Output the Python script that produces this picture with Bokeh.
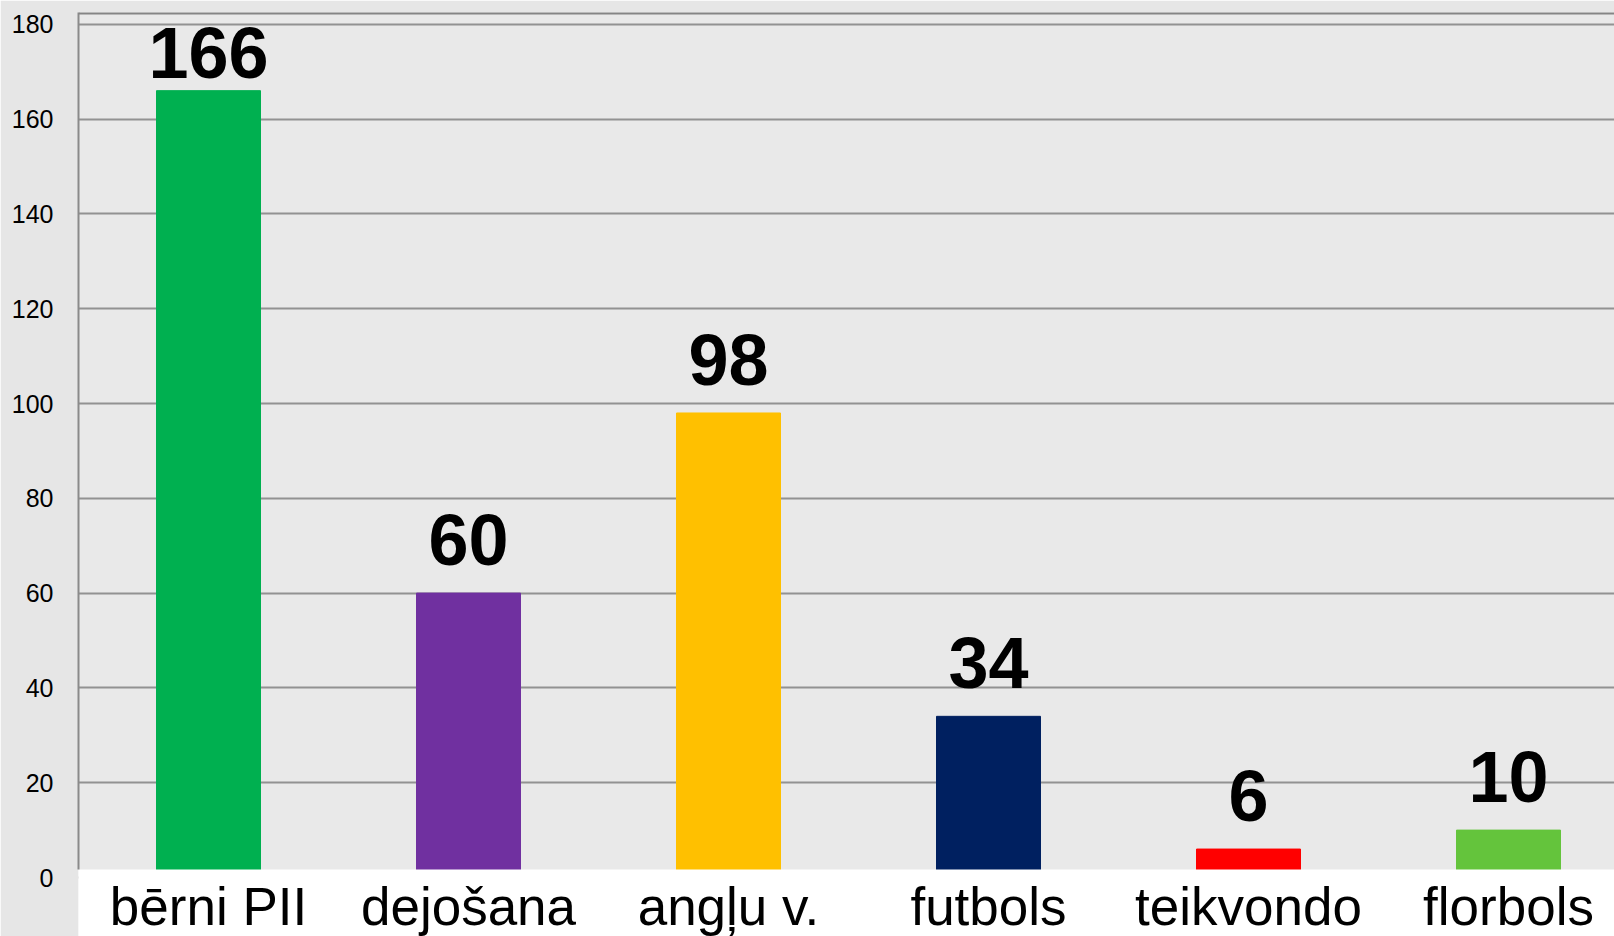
import numpy as np
from bokeh.plotting import figure
from bokeh.models import Range1d, FixedTicker, Span, ColumnDataSource
from bokeh.core.properties import value
from bokeh.embed import file_html
from bokeh.resources import INLINE

# ---- data ----
categories = ["bērni PII", "dejošana", "angļu v.", "futbols", "teikvondo", "florbols"]
counts = [166, 60, 98, 34, 6, 10]
bar_colors = ["#00B050", "#7030A0", "#FFC000", "#002060", "#FF0000", "#64C43C"]
y_ticks = [0, 20, 40, 60, 80, 100, 120, 140, 160, 180]

# ---- layout constants ----
W, H = 1614, 936
FRAME_LEFT = 78
FRAME_TOP = 12
px_per_unit = 4.74
zero_px_from_top = 865  # y=0 position measured from frame top
frame_h = H - FRAME_TOP
frame_w = W - FRAME_LEFT
cat_px = 260.0

y_end = zero_px_from_top / px_per_unit
y_start = -(frame_h - zero_px_from_top) / px_per_unit
x_start = -0.5
x_end = x_start + frame_w / cat_px

x = np.arange(len(categories))
vals = np.array(counts, dtype=float)
label_shift = 25  # compensation for text baseline rendering
label_y = np.minimum(vals + (28 + label_shift) / px_per_unit,
                     max(y_ticks) - 11.4 + label_shift / px_per_unit)

src = ColumnDataSource(dict(x=x, top=vals, color=bar_colors,
                            label=[str(v) for v in counts], label_y=label_y,
                            cat=categories, zero=np.zeros(len(x))))

bg = "#e9e9e9"
p = figure(width=W, height=H, output_backend="svg", toolbar_location=None,
           x_range=Range1d(x_start, x_end), y_range=Range1d(y_start, y_end),
           x_axis_type=None, min_border_left=FRAME_LEFT, min_border_right=0,
           min_border_top=FRAME_TOP, min_border_bottom=0)
p.background_fill_color = bg
p.border_fill_color = "#e6e6e6"
p.outline_line_color = None

p.vbar(x="x", top="top", bottom=0, width=0.4, color="color", source=src)

# white band beneath the plot area that hosts the category labels
band_top = 8 / px_per_unit
p.quad(left=x_start - 1, right=x_end + 1, bottom=y_start - 1, top=band_top,
       fill_color="white", line_color=None)

p.text(x="x", y="label_y", text="label", source=src, text_align="center",
       text_baseline="alphabetic", text_font=value("Liberation Sans"),
       text_font_style="bold", text_font_size="72px", text_color="black")

p.text(x="x", y="zero", text="cat", source=src, text_align="center",
       text_baseline="alphabetic", y_offset=29, text_font=value("Liberation Sans"),
       text_font_size="53px", text_color="black")

ax = p.yaxis[0]
ax.ticker = FixedTicker(ticks=y_ticks)
ax.bounds = (band_top, y_end)
ax.major_tick_out = 0
ax.major_tick_in = 0
ax.minor_tick_line_color = None
ax.major_label_standoff = 25
ax.major_label_text_font = "Liberation Sans"
ax.major_label_text_font_size = "25px"
ax.major_label_text_color = "black"
ax.axis_line_color = "#8a8a8a"
ax.axis_line_width = 2

p.ygrid.ticker = FixedTicker(ticks=y_ticks)
p.ygrid.grid_line_color = "#929292"
p.ygrid.grid_line_width = 2
p.xgrid.visible = False

p.add_layout(Span(location=y_end, dimension="width", line_color="#858585", line_width=4))

open("out.html", "w").write(file_html(p, INLINE))
